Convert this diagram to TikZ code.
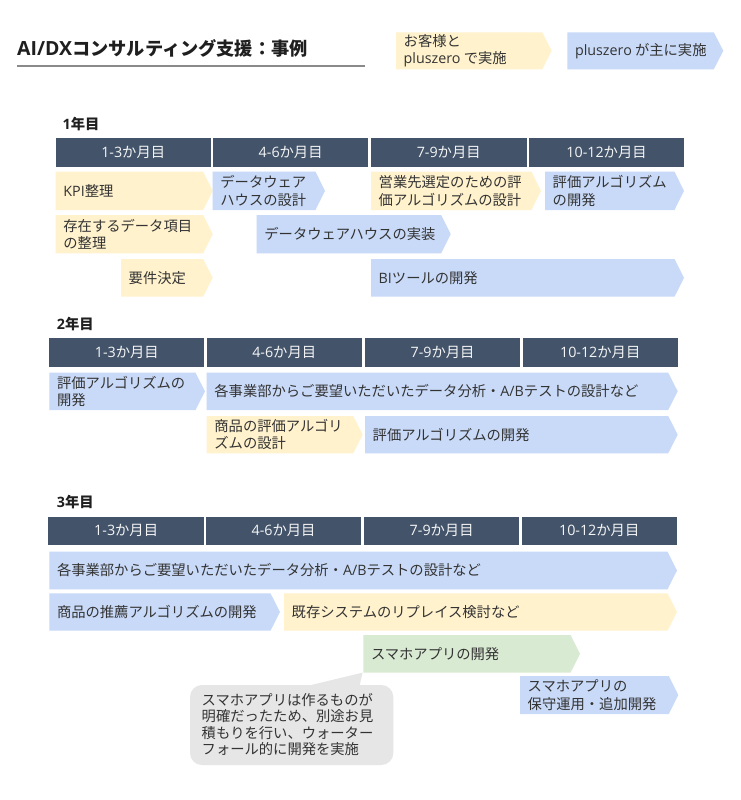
\documentclass[tikz,border=0pt]{standalone}
\usepackage{fontspec}
\setmainfont{Noto Sans CJK JP}
\newfontfamily\latfont{Open Sans}
\newcommand\lat[1]{{\latfont #1}}
\definecolor{yel}{HTML}{FFF2CC}
\definecolor{blu}{HTML}{C9DAF8}
\definecolor{grn}{HTML}{D9EAD3}
\definecolor{hdrc}{HTML}{435369}
\definecolor{txt}{HTML}{333333}
\definecolor{bub}{HTML}{E6E6E6}
\definecolor{rule}{HTML}{8A8A8A}
\tikzset{
 tasktext/.style={anchor=west, inner sep=0pt, align=left, text=txt, font=\fontsize{14.3}{17.5}\selectfont},
 hdrtext/.style={inner sep=0pt, text=white!94!hdrc, font=\fontsize{14.3}{17}\selectfont},
 yeartext/.style={anchor=west, inner sep=0pt, text=black!88, font=\bfseries\fontsize{14.3}{17}\selectfont},
 notetext/.style={anchor=west, inner sep=0pt, align=left, text=txt, font=\fontsize{14.3}{16.2}\selectfont},
}
% name, x1, x2 (tip), y1, y2, fill, text
\newcommand\taskbar[7]{%
 \fill[#6] (#2,#4) -- ({#3-9.5},#4) -- (#3,{(#4+#5)/2}) -- ({#3-9.5},#5) -- (#2,#5) -- cycle;
 \node[tasktext] (#1) at ({#2+7.5},{(#4+#5)/2}) {#7};}
% name, x1, x2, y1, y2, text
\newcommand\hdrcell[6]{%
 \fill[hdrc] (#2,#4) rectangle (#3,#5);
 \node[hdrtext] (#1) at ({(#2+#3)/2},{(#4+#5)/2}) {#6};}
\begin{document}
\begin{tikzpicture}[x=1pt,y=-1pt]
\fill[white] (0,0) rectangle (740,800);
\useasboundingbox (0,0) rectangle (740,800);
% title
\node[anchor=west, inner sep=0pt, text=black!88, font=\bfseries\fontsize{18.2}{20}\selectfont] (title) at (17,48.3) {{\latfont\fontsize{19.5}{20}\selectfont AI/DX}コンサルティング支援：事例};
\coordinate (ruleL) at (17,65.7);
\coordinate (ruleR) at (365,65.7);
\draw[rule, line width=2pt] (ruleL) -- (ruleR);
% legend
\taskbar{legcust}{396}{551.7}{32.3}{69.3}{yel}{お客様と\\\lat{pluszero} で実施}
\taskbar{legpz}{567.3}{723.3}{32.3}{69.3}{blu}{\lat{pluszero} が主に実施}
% ---------- year 1
\node[yeartext] (y1) at (62.5,124.5) {\lat{1}年目};
\hdrcell{h11}{55.7}{210.7}{138.3}{166.7}{\lat{1-3}か月目}
\hdrcell{h12}{212.9}{368.4}{138.3}{166.7}{\lat{4-6}か月目}
\hdrcell{h13}{370.7}{526.7}{138.3}{166.7}{\lat{7-9}か月目}
\hdrcell{h14}{529}{684}{138.3}{166.7}{\lat{10-12}か月目}
\taskbar{a1}{55.7}{212.7}{171.7}{210}{yel}{\lat{KPI}整理}
\taskbar{a2}{212.7}{325}{171.7}{210}{blu}{データウェア\\ハウスの設計}
\taskbar{a3}{371}{541}{171.7}{210}{yel}{営業先選定のための評\\価アルゴリズムの設計}
\taskbar{a4}{545}{684}{171.7}{210}{blu}{評価アルゴリズム\\の開発}
\taskbar{a5}{55.7}{212.7}{215}{253.3}{yel}{存在するデータ項目\\の整理}
\taskbar{a6}{256.7}{450.7}{215}{253.3}{blu}{データウェアハウスの実装}
\taskbar{a7}{121}{212.7}{259}{296.7}{yel}{要件決定}
\taskbar{a8}{371}{684}{259}{296.7}{blu}{\lat{BI}ツールの開発}
% ---------- year 2
\node[yeartext] (y2) at (56.7,324) {\lat{2}年目};
\hdrcell{h21}{49.3}{204.3}{337.7}{366.7}{\lat{1-3}か月目}
\hdrcell{h22}{206.7}{361.7}{337.7}{366.7}{\lat{4-6}か月目}
\hdrcell{h23}{365}{520}{337.7}{366.7}{\lat{7-9}か月目}
\hdrcell{h24}{522.7}{677.7}{337.7}{366.7}{\lat{10-12}か月目}
\taskbar{b1}{49.3}{205}{372.7}{410}{blu}{評価アルゴリズムの\\開発}
\taskbar{b2}{206.7}{677.7}{372.7}{410}{blu}{各事業部からご要望いただいたデータ分析・\lat{A/B}テストの設計など}
\taskbar{b3}{206.7}{362.7}{416}{453.3}{yel}{商品の評価アルゴリ\\ズムの設計}
\taskbar{b4}{365}{677.7}{416}{453.3}{blu}{評価アルゴリズムの開発}
% ---------- year 3
\node[yeartext] (y3) at (56.7,502.3) {\lat{3}年目};
\hdrcell{h31}{48.3}{204}{516.7}{545}{\lat{1-3}か月目}
\hdrcell{h32}{206}{361}{516.7}{545}{\lat{4-6}か月目}
\hdrcell{h33}{364}{519.3}{516.7}{545}{\lat{7-9}か月目}
\hdrcell{h34}{521.7}{676.7}{516.7}{545}{\lat{10-12}か月目}
\taskbar{c1}{49.3}{677}{551.7}{589.3}{blu}{各事業部からご要望いただいたデータ分析・\lat{A/B}テストの設計など}
\taskbar{c2}{49.3}{280}{593.3}{630.7}{blu}{商品の推薦アルゴリズムの開発}
\taskbar{c3}{284}{677}{593.3}{630.7}{yel}{既存システムのリプレイス検討など}
\taskbar{c4}{363.3}{580}{635}{672.7}{grn}{スマホアプリの開発}
\taskbar{c5}{520}{678.3}{676}{714}{blu}{スマホアプリの\\保守運用・追加開発}
% callout
\fill[bub, rounded corners=12pt] (190,685) rectangle (393.3,765);
\fill[bub] (307,686) -- (362.5,672.7) -- (359.5,686) -- cycle;
\node[notetext] (note) at (201.5,724.5) {スマホアプリは作るものが\\明確だったため、別途お見\\積もりを行い、ウォーター\\フォール的に開発を実施};
\end{tikzpicture}
\end{document}
